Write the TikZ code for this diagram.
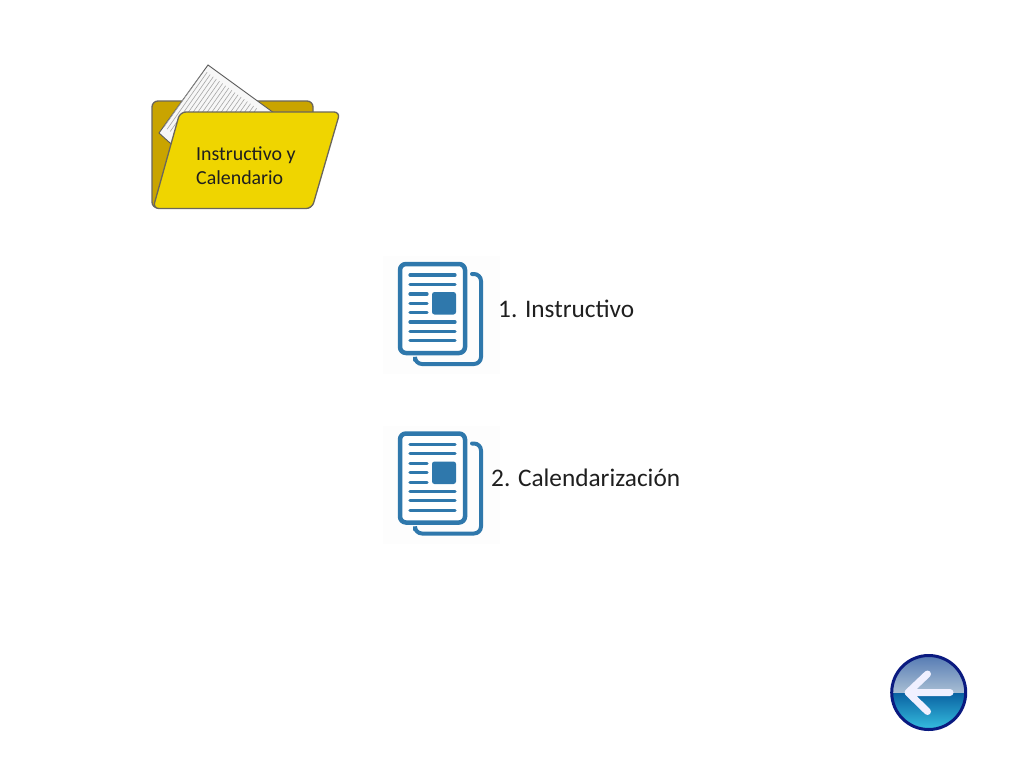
\documentclass[tikz,border=0pt]{standalone}
\usepackage{fontspec}
\setmainfont{Carlito}
\definecolor{folderback}{HTML}{C9A400}
\definecolor{folderfront}{HTML}{EFD500}
\definecolor{folderedge}{HTML}{6A665C}
\definecolor{docblue}{HTML}{2F78AC}
\definecolor{docbg}{HTML}{FDFDFD}
\definecolor{btnnavy}{HTML}{0A1A80}
\definecolor{btnA}{HTML}{5278B2}
\definecolor{btnB}{HTML}{A9BFD4}
\definecolor{btnC}{HTML}{0A62A2}
\definecolor{btnD}{HTML}{38C2E2}
\tikzset{
  docline/.style={draw=docblue,line width=3.2pt,line cap=round},
  docframe/.style={draw=docblue,line width=4.5pt,rounded corners=6pt,fill=white},
  doctail/.style={draw=docblue,line width=4pt,rounded corners=7pt,line cap=round},
  doclabel/.style={anchor=base west,inner sep=0pt,text=black!88,font=\fontsize{25.3}{28}\selectfont},
  foldertext/.style={anchor=base west,inner sep=0pt,text=black!88,font=\fontsize{19.9}{22}\selectfont},
  docicon/.pic={
    \fill[docbg] (383,256) rectangle (500,374);
    \draw[doctail] (472,274) -- (481,274) -- (481,364) -- (415,364) -- (415,360);
    \draw[docframe] (400,264) rectangle (465,353);
    \foreach \yy in {275,284.3,322,331.3,340.7} \draw[docline] (410,\yy) -- (455,\yy);
    \foreach \yy in {294,303.3,312.7} \draw[docline] (410,\yy) -- (427,\yy);
    \fill[docblue,rounded corners=2.5pt] (432,292) rectangle (456,314.5);
  }
}
\begin{document}
\begin{tikzpicture}[x=1pt,y=-1pt]
\useasboundingbox (0,0) rectangle (1024,768);
\fill[white] (0,0) rectangle (1024,768);
% folder
\draw[folderedge,fill=folderback,line width=1.3pt,rounded corners=6pt]
  (152,208) -- (152,101) -- (313,101) -- (313,208) -- cycle;
\draw[gray!70!black,fill=black!3,line width=0.9pt] (208,65) -- (274,113) -- (190,150) -- (170,143) -- (159,133) -- cycle;
\begin{scope}
  \clip (208,65) -- (274,113) -- (180,113) -- (170,143) -- (159,133) -- cycle;
  \foreach \i in {0,...,17}
    \draw[black!35,line width=0.6pt] ({204+\i*3.1-0},{70+\i*2.25}) -- ({164+\i*3.1},{127+\i*2.25});
\end{scope}
\draw[folderedge,fill=folderfront,line width=1.3pt,rounded corners=6pt]
  (180,112) -- (340,112) -- (312,208.5) -- (153,208.5) -- cycle;
\node[foldertext] (t1) at (196,160) {Instructivo y};
\node[foldertext] (t2) at (196,184) {Calendario};
% documents
\pic (d1) at (0,0) {docicon};
\pic (d2) at (0,169.5) {docicon};
\node[doclabel] (l1) at (498,317) {1. Instructivo};
\node[doclabel] (l2) at (491,486.5) {2. Calendarización};
% back button
\coordinate (bc) at (928.7,692.5);
\begin{scope}
  \clip (bc) circle[radius=37];
  \shade[top color=btnA,bottom color=btnB] (890,654) rectangle (968,693);
  \shade[top color=btnC,bottom color=btnD] (890,693) rectangle (968,731);
\end{scope}
\draw[btnnavy,line width=3pt] (bc) circle[radius=37];
\draw[white!94!blue,line width=7pt,line cap=round,line join=round]
  (950,692.5) -- (908,692.5) (927.5,674) -- (908,692.5) -- (927.5,711.5);
\end{tikzpicture}
\end{document}
